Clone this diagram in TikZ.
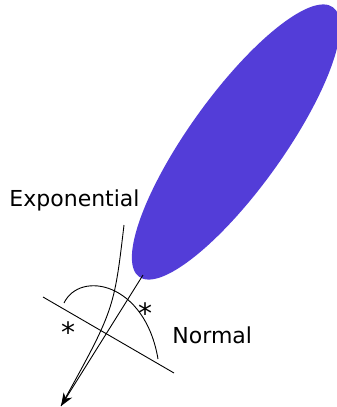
\documentclass[tikz,border=0pt]{standalone}
\usepackage{fontspec}
\setmainfont{DejaVu Sans}
\usetikzlibrary{arrows.meta}
\definecolor{blobBlue}{RGB}{83, 61, 216}

\begin{document}
\begin{tikzpicture}[x=1pt, y=-1pt, line width=0.9pt]
  \useasboundingbox (0,0) rectangle (337,407);

  % Blob
  \fill[blobBlue] (236,142) ellipse[x radius=166, y radius=47, rotate=54.3];

  % Points
  \coordinate (tail) at (143,275);
  \coordinate (expTop) at (124,225);
  \coordinate (tip) at (61,406);
  \coordinate (bellL) at (64,303);
  \coordinate (bellR) at (158,359);
  \coordinate (axisL) at (43,297);
  \coordinate (axisR) at (174,373);

  % Bell and axis
  \draw (bellL) .. controls (80,270) and (145,282) .. (bellR);
  \draw (axisL) -- (axisR);

  % Paths to the tip
  \draw[-{Stealth[length=13pt, width=10pt]}] (tail) -- (tip);
  \draw (expTop) .. controls (114,310) .. (tip);

  % Stars
  \node[font=\fontsize{28}{28}\selectfont] (starL) at (68,332) {*};
  \node[font=\fontsize{28}{28}\selectfont] (starR) at (145,313) {*};

  % Labels
  \node[anchor=base west, inner sep=0pt, font=\fontsize{22}{26}\selectfont] (expo) at (9,206) {Exponential};
  \node[anchor=base west, inner sep=0pt, font=\fontsize{22}{26}\selectfont] (normal) at (172,343) {Normal};
\end{tikzpicture}
\end{document}
